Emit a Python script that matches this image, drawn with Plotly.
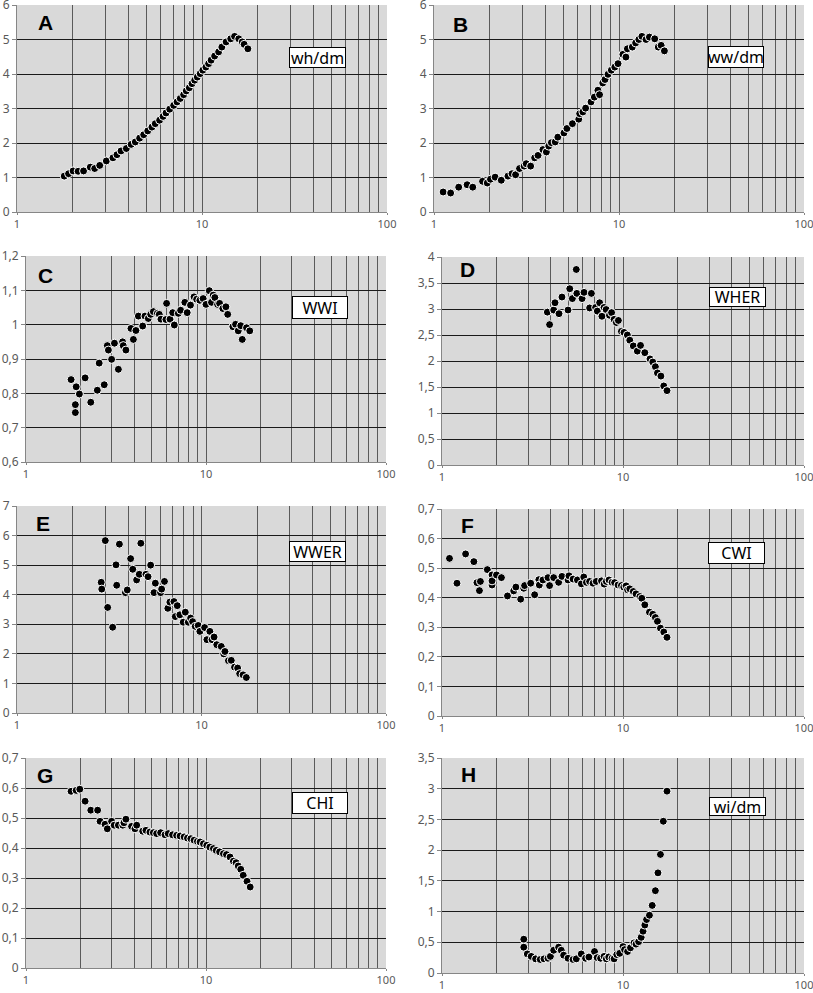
import plotly.graph_objects as go

W, H = 813, 993

# ---------------- data ----------------
a_x = [1.80, 1.90, 2.01, 2.14, 2.29, 2.49, 2.63, 2.80, 3.04, 3.30, 3.47, 3.65, 3.90, 4.14, 4.36, 4.60,
       4.84, 5.09, 5.36, 5.59, 5.90, 6.16, 6.39, 6.69, 7.03, 7.33, 7.63, 7.96, 8.22, 8.54, 8.83, 9.13,
       9.43, 9.78, 10.1, 10.5, 10.86, 11.2, 11.7, 12.3, 12.8, 13.5, 14.3, 15.0, 15.8, 16.5, 16.9, 17.7]
a_y = [1.04, 1.11, 1.19, 1.18, 1.19, 1.30, 1.26, 1.35, 1.48, 1.57, 1.66, 1.77, 1.84, 1.96, 2.03, 2.14,
       2.24, 2.35, 2.46, 2.56, 2.66, 2.77, 2.87, 2.98, 3.09, 3.19, 3.29, 3.40, 3.51, 3.60, 3.72, 3.82,
       3.91, 4.01, 4.11, 4.20, 4.30, 4.40, 4.52, 4.64, 4.78, 4.93, 5.02, 5.09, 5.02, 4.93, 4.86, 4.73]

b_x = [1.12, 1.23, 1.36, 1.51, 1.62, 1.83, 1.94, 2.02, 2.14, 2.31, 2.51, 2.64, 2.76, 2.90, 3.07, 3.15,
       3.33, 3.50, 3.65, 3.88, 4.05, 4.17, 4.31, 4.52, 4.67, 5.04, 5.23, 5.60, 6.06, 6.13, 6.38, 6.60,
       7.06, 7.36, 7.69, 7.85, 8.17, 8.40, 8.72, 9.09, 9.49, 9.88, 10.5, 10.9, 11.1, 11.8, 12.3, 12.8,
       13.3, 14.0, 14.6, 15.6, 16.3, 16.9, 17.6]
b_y = [0.58, 0.55, 0.72, 0.79, 0.72, 0.89, 0.84, 0.95, 1.01, 0.92, 1.04, 1.11, 1.08, 1.26, 1.33, 1.40,
       1.33, 1.57, 1.64, 1.81, 1.74, 1.91, 2.01, 2.03, 2.17, 2.29, 2.42, 2.56, 2.69, 2.85, 2.90, 3.01,
       3.19, 3.33, 3.53, 3.40, 3.74, 3.84, 3.99, 4.11, 4.20, 4.30, 4.57, 4.49, 4.73, 4.78, 4.90, 5.00,
       5.09, 5.00, 5.07, 5.02, 4.78, 4.83, 4.67]

c_x = [1.78, 1.90, 1.98, 1.88, 1.88, 2.13, 2.29, 2.49, 2.55, 2.72, 2.83, 2.87, 2.99, 3.10, 3.26, 3.44,
       3.47, 3.59, 3.83, 3.95, 4.08, 4.21, 4.45, 4.58, 4.78, 4.93, 5.10, 5.37, 5.50, 5.62, 6.04, 5.99,
       6.31, 6.53, 6.67, 7.02, 7.23, 7.63, 7.86, 8.20, 8.58, 8.87, 9.24, 9.64, 10.0, 10.43, 10.73, 10.97,
       11.2, 11.6, 11.9, 12.4, 12.9, 13.2, 14.1, 14.6, 15.1, 15.9, 15.6, 16.8, 17.5]
c_y = [0.840, 0.819, 0.798, 0.767, 0.744, 0.845, 0.774, 0.809, 0.888, 0.825, 0.939, 0.926, 0.899, 0.946,
       0.870, 0.950, 0.939, 0.926, 0.989, 0.957, 0.983, 1.025, 0.996, 1.025, 1.018, 1.030, 1.038, 1.033,
       1.030, 1.016, 1.062, 1.015, 1.016, 1.035, 0.999, 1.033, 1.042, 1.065, 1.035, 1.057, 1.081, 1.074,
       1.071, 1.076, 1.059, 1.099, 1.065, 1.086, 1.079, 1.059, 1.062, 1.047, 1.052, 1.030, 0.994, 1.001,
       0.982, 0.957, 0.997, 0.991, 0.982]

d_x = [3.82, 3.93, 4.14, 4.21, 4.43, 4.60, 4.97, 5.08, 5.25, 5.52, 5.56, 5.94, 6.09, 6.54, 6.69, 7.06,
       7.21, 7.43, 7.65, 7.86, 8.07, 8.42, 8.65, 8.93, 9.19, 9.43, 9.80, 10.13, 10.57, 10.9, 11.4, 12.0,
       12.5, 13.2, 14.1, 14.6, 15.1, 15.5, 16.2, 16.8, 17.5]
d_y = [2.94, 2.70, 2.98, 3.12, 2.91, 3.23, 2.98, 3.39, 3.20, 3.76, 3.30, 3.20, 3.32, 3.02, 3.30, 3.03,
       2.96, 3.12, 2.86, 3.03, 2.99, 2.88, 2.93, 2.80, 2.74, 2.78, 2.57, 2.55, 2.50, 2.40, 2.29, 2.19,
       2.30, 2.16, 2.04, 1.98, 1.89, 1.77, 1.71, 1.52, 1.43]

e_x = [2.86, 2.88, 3.01, 3.10, 3.30, 3.44, 3.47, 3.59, 3.87, 3.96, 4.13, 4.24, 4.45, 4.60, 4.69, 5.00,
       5.13, 5.30, 5.62, 5.53, 6.00, 6.08, 6.30, 6.57, 6.74, 7.09, 7.21, 7.39, 7.63, 7.96, 8.17, 8.48,
       8.73, 8.95, 9.25, 9.60, 9.80, 10.4, 10.7, 11.1, 11.4, 11.7, 12.1, 12.8, 13.2, 13.4, 14.0, 14.5,
       15.1, 15.7, 16.1, 16.8, 17.5]
e_y = [4.42, 4.19, 5.83, 3.57, 2.90, 5.01, 4.32, 5.71, 4.07, 4.16, 5.22, 4.86, 4.50, 4.69, 5.74, 4.69,
       4.61, 5.00, 4.39, 4.07, 4.07, 4.19, 4.45, 3.54, 3.75, 3.77, 3.26, 3.63, 3.32, 3.07, 3.41, 3.07,
       3.21, 3.09, 2.93, 2.96, 2.76, 2.89, 2.48, 2.76, 2.48, 2.57, 2.31, 2.25, 2.00, 2.08, 1.77, 1.78,
       1.55, 1.52, 1.33, 1.29, 1.20]

f_x = [1.10, 1.21, 1.35, 1.50, 1.56, 1.61, 1.63, 1.78, 1.89, 1.89, 1.89, 2.00, 2.13, 2.30, 2.49, 2.56,
       2.72, 2.83, 2.86, 3.09, 3.25, 3.43, 3.45, 3.61, 3.85, 3.93, 4.14, 4.41, 4.60, 4.97, 5.03, 5.30,
       5.60, 5.89, 6.07, 6.28, 6.54, 6.83, 7.12, 7.61, 7.87, 8.09, 8.37, 8.70, 8.99, 9.39, 9.80, 10.1,
       10.4, 10.6, 10.9, 11.4, 11.8, 12.4, 12.7, 13.2, 14.0, 14.6, 15.1, 15.5, 16.1, 16.8, 17.5]
f_y = [0.533, 0.449, 0.548, 0.522, 0.451, 0.424, 0.455, 0.495, 0.477, 0.443, 0.457, 0.477, 0.468, 0.406,
       0.423, 0.436, 0.395, 0.432, 0.441, 0.449, 0.410, 0.461, 0.443, 0.460, 0.468, 0.441, 0.468, 0.452,
       0.472, 0.460, 0.474, 0.463, 0.460, 0.447, 0.470, 0.452, 0.455, 0.449, 0.455, 0.457, 0.446, 0.455,
       0.460, 0.452, 0.451, 0.443, 0.441, 0.436, 0.440, 0.427, 0.430, 0.421, 0.413, 0.404, 0.398, 0.376,
       0.351, 0.344, 0.333, 0.320, 0.297, 0.284, 0.266]

g_x = [1.78, 1.90, 1.99, 2.13, 2.29, 2.50, 2.58, 2.75, 2.83, 2.99, 3.09, 3.26, 3.45, 3.50, 3.59, 3.86,
       4.03, 4.12, 4.45, 4.64, 4.88, 5.10, 5.32, 5.60, 5.92, 6.17, 6.52, 6.87, 7.18, 7.56, 7.89, 8.24,
       8.59, 8.96, 9.27, 9.68, 10.1, 10.5, 11.0, 11.4, 11.9, 12.5, 13.0, 13.6, 14.2, 14.7, 15.1, 15.6,
       16.1, 16.9, 17.6]
g_y = [0.589, 0.592, 0.596, 0.556, 0.526, 0.526, 0.489, 0.479, 0.464, 0.489, 0.476, 0.476, 0.476, 0.484,
       0.496, 0.472, 0.464, 0.476, 0.456, 0.459, 0.453, 0.451, 0.448, 0.451, 0.444, 0.448, 0.444, 0.442,
       0.440, 0.437, 0.433, 0.431, 0.426, 0.422, 0.420, 0.414, 0.409, 0.403, 0.398, 0.392, 0.387, 0.381,
       0.378, 0.370, 0.356, 0.351, 0.340, 0.329, 0.309, 0.289, 0.270]

h_x = [2.83, 2.83, 2.96, 3.11, 3.29, 3.49, 3.66, 3.85, 3.97, 4.14, 4.41, 4.56, 4.70, 4.97, 5.30, 5.52,
       5.88, 6.21, 6.48, 6.96, 7.20, 7.52, 7.86, 8.09, 8.34, 8.70, 8.93, 9.24, 9.59, 10.0, 10.2, 10.6,
       11.0, 11.5, 11.8, 12.2, 12.6, 12.9, 13.2, 13.5, 14.0, 14.5, 15.1, 15.6, 16.1, 16.7, 17.5]
h_y = [0.55, 0.42, 0.31, 0.27, 0.23, 0.22, 0.23, 0.24, 0.27, 0.37, 0.42, 0.37, 0.29, 0.24, 0.22, 0.23,
       0.31, 0.24, 0.26, 0.35, 0.25, 0.24, 0.27, 0.23, 0.26, 0.24, 0.23, 0.30, 0.32, 0.43, 0.38, 0.35,
       0.41, 0.49, 0.47, 0.51, 0.58, 0.68, 0.78, 0.87, 0.94, 1.10, 1.34, 1.63, 1.93, 2.47, 2.96]

letters = ["A", "B", "C", "D", "E", "F", "G", "H"]
names = ["wh/dm", "ww/dm", "WWI", "WHER", "WWER", "CWI", "CHI", "wi/dm"]
y_ranges = [(0, 6), (0, 6), (0.6, 1.2), (0, 4), (0, 7), (0, 0.7), (0, 0.7), (0, 3.5)]
y_dticks = [1, 1, 0.1, 0.5, 1, 0.1, 0.1, 0.5]
x_major = [1, 10, 100]
x_major_text = ["1", "10", "100"]
x_minor = [2, 3, 4, 5, 6, 7, 8, 9, 20, 30, 40, 50, 60, 70, 80, 90]

series = [(a_x, a_y), (b_x, b_y), (c_x, c_y), (d_x, d_y),
          (e_x, e_y), (f_x, f_y), (g_x, g_y), (h_x, h_y)]

# ---------------- layout geometry (pixels) ----------------
# plot area: left, right, top, bottom
areas = [(17, 387, 5, 212), (434, 804, 5, 212),
         (26, 386, 256, 462), (442, 804, 257, 465),
         (17, 386, 506, 713), (442, 804, 509, 716),
         (26, 386, 758, 968), (442, 804, 758, 973)]
letter_pos = [(45, 23), (460, 24), (45, 275), (467, 270),
              (43, 523), (467, 525), (45, 775), (468, 774)]
box_pos = [(289, 47, 346, 68), (708, 46, 764, 68), (292, 296, 348, 319), (709, 287, 766, 307),
           (289, 541, 346, 562), (708, 542, 765, 564), (292, 792, 348, 814), (709, 797, 766, 816)]


def px(x):
    return x / W


def py(y):
    return 1 - y / H


tick_font = dict(family="Noto Sans, DejaVu Sans, sans-serif", size=12, color="#595959")
xtick_font = dict(family="Noto Sans, DejaVu Sans, sans-serif", size=11, color="#595959")
axis_col = "#868686"
vgrid = "#5a5a5a"

fig = go.Figure()
layout = dict(
    width=W, height=H, autosize=False,
    margin=dict(l=0, r=0, t=0, b=0, pad=0),
    paper_bgcolor="white",
    plot_bgcolor="#d9d9d9",
    separators=", ",
    showlegend=False,
    annotations=[],
)

for i, ((xs, ys), (l, r, t, b)) in enumerate(zip(series, areas)):
    k = "" if i == 0 else str(i + 1)
    fig.add_trace(go.Scatter(
        x=xs, y=ys, mode="markers",
        xaxis="x" + k, yaxis="y" + k,
        marker=dict(size=8, color="black", line=dict(color="white", width=1)),
        hoverinfo="skip",
    ))
    layout["xaxis" + k] = dict(
        type="log", range=[0, 2], domain=[px(l), px(r)], anchor="y" + k,
        tickmode="array", tickvals=x_major, ticktext=x_major_text,
        showgrid=True, gridcolor=vgrid, gridwidth=1,
        minor=dict(tickmode="array", tickvals=x_minor, showgrid=True,
                   gridcolor=vgrid, gridwidth=1, ticks=""),
        showline=True, linecolor=axis_col, linewidth=1,
        ticks="outside", ticklen=2, tickcolor=axis_col,
        tickfont=xtick_font, zeroline=False, fixedrange=True,
        automargin=False, ticklabeloverflow="allow",
    )
    y0, y1 = y_ranges[i]
    layout["yaxis" + k] = dict(
        range=[y0, y1], domain=[py(b), py(t)], anchor="x" + k,
        dtick=y_dticks[i], tick0=0,
        showgrid=True, gridcolor="#1a1a1a", gridwidth=1,
        showline=True, linecolor=axis_col, linewidth=1,
        ticks="outside", ticklen=4, tickcolor=axis_col,
        tickfont=tick_font, zeroline=False, fixedrange=True,
        automargin=False, ticklabeloverflow="allow",
    )
    lx, ly = letter_pos[i]
    layout["annotations"].append(dict(
        x=px(lx), y=py(ly), xref="paper", yref="paper",
        text="<b>" + letters[i] + "</b>", showarrow=False,
        font=dict(family="Liberation Sans, Arial, sans-serif", size=21, color="black"),
        xanchor="center", yanchor="middle",
    ))
    bx0, by0, bx1, by1 = box_pos[i]
    layout["annotations"].append(dict(
        x=px((bx0 + bx1) / 2), y=py((by0 + by1) / 2), xref="paper", yref="paper",
        text=names[i], showarrow=False,
        font=dict(family="Noto Sans, DejaVu Sans, sans-serif", size=16, color="black"),
        xanchor="center", yanchor="middle",
        bgcolor="white", bordercolor="black", borderwidth=1,
        width=bx1 - bx0 - 2, height=by1 - by0 - 2, borderpad=0,
    ))

fig.update_layout(**layout)
fig.write_html("out.html",
               config={"displayModeBar": False, "staticPlot": True},
               post_script="document.body.style.margin='0px';document.body.style.overflow='hidden';")
